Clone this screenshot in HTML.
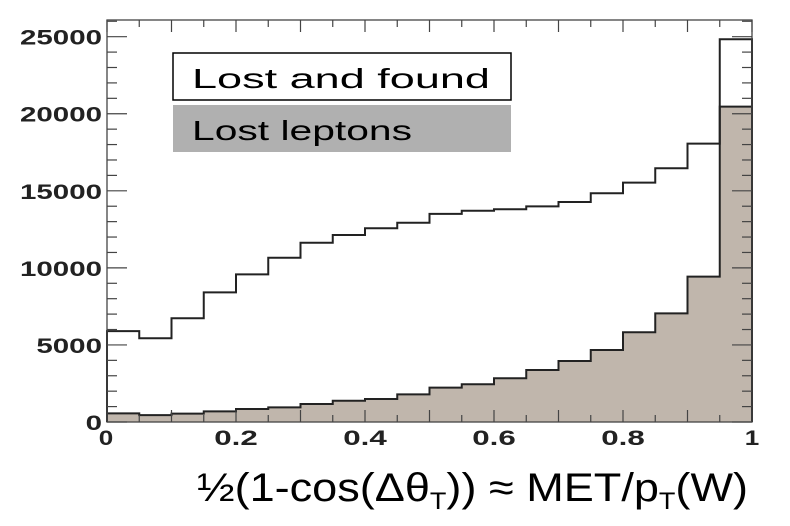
<!DOCTYPE html>
<html><head><meta charset="utf-8"><style>
html,body{margin:0;padding:0;background:#fff;}
svg{display:block;font-family:"Liberation Sans",sans-serif;}
</style></head><body>
<svg id="chart" width="790" height="526" viewBox="0 0 790 526" xmlns="http://www.w3.org/2000/svg">
<g id="fills"></g>
<g id="lines"></g>
<g id="axes"></g>
<rect x="173" y="53" width="338" height="47" fill="#fff" stroke="#000" stroke-width="1.5"/>
<text x="192" y="88" font-size="28" textLength="298" lengthAdjust="spacingAndGlyphs" fill="#000">Lost and found</text>
<rect x="173" y="105" width="338" height="47" fill="#b0b0b0"/>
<text x="192" y="140" font-size="28" textLength="220" lengthAdjust="spacingAndGlyphs" fill="#000">Lost leptons</text>
<text x="197" y="501" font-size="40" textLength="551" lengthAdjust="spacingAndGlyphs" fill="#000">½(1-cos(Δθ<tspan font-size="24" dy="8">T</tspan><tspan dy="-8">)) ≈ MET/p</tspan><tspan font-size="24" dy="8">T</tspan><tspan dy="-8">(W)</tspan></text>
</svg>
<script>
const binEdgesStart = 0, binWidth = 0.05;
const lostAndFound = [5900,5430,6730,8410,9580,10660,11630,12130,12570,12930,13500,13710,13800,13990,14270,14840,15530,16460,18060,24830];
const lostLeptons = [560,450,540,690,840,950,1170,1380,1490,1790,2230,2450,2840,3370,3960,4670,5820,7050,9430,20460];
const yTicks = [0,5000,10000,15000,20000,25000];
const xTicks = [0,0.2,0.4,0.6,0.8,1];
const xTickLabels = ["0","0.2","0.4","0.6","0.8","1"];

const X0=107,X1=752,Y0=422,YTOP=20;
const sx=v=>X0+v*(X1-X0);
const sy=v=>Y0-v*0.015413;
const NS="http://www.w3.org/2000/svg";
function mk(tag,attrs,parent){const e=document.createElementNS(NS,tag);for(const k in attrs)e.setAttribute(k,attrs[k]);parent.appendChild(e);return e;}
const fills=document.getElementById('fills'),lines=document.getElementById('lines'),axes=document.getElementById('axes');

function stepPath(vals){
  let d=`M${sx(0)},${sy(0)}`;
  vals.forEach((v,i)=>{const a=binEdgesStart+i*binWidth,b=a+binWidth;d+=` L${sx(a)},${sy(v)} L${sx(b)},${sy(v)}`;});
  d+=` L${sx(binEdgesStart+vals.length*binWidth)},${sy(0)}`;
  return d;
}
lostLeptons.forEach((v,i)=>{
  const a=binEdgesStart+i*binWidth;
  const r=mk('rect',{x:sx(a),y:sy(v),width:sx(a+binWidth)-sx(a)+0.5,height:sy(0)-sy(v),fill:'#c0b6ac'},fills);
  
  
});
const p1=mk('path',{d:stepPath(lostLeptons),fill:'none',stroke:'#222',"stroke-width":2},lines);


const p2=mk('path',{d:stepPath(lostAndFound),fill:'none',stroke:'#222',"stroke-width":2},lines);



const frame=mk('rect',{x:X0,y:YTOP,width:X1-X0,height:Y0-YTOP,fill:'none',stroke:'#444',"stroke-width":1.3},axes);


for(let v=0;v<=26000;v+=1000){
  const major=v%5000===0,len=major?20:10,y=sy(v);
  if(y<YTOP)break;
  mk('line',{x1:X0,y1:y,x2:X0+len,y2:y,stroke:'#444',"stroke-width":1.2},axes);
  mk('line',{x1:X1,y1:y,x2:X1-len,y2:y,stroke:'#444',"stroke-width":1.2},axes);
}
yTicks.forEach(v=>{
  const s=String(v);
  const t=mk('text',{x:102,y:sy(v)+8,"font-size":21,"font-weight":"bold","text-anchor":"end",fill:'#222',textLength:s.length*16.4,lengthAdjust:'spacingAndGlyphs'},axes);
  t.textContent=s;
  
  
});
for(let i=0;i<=20;i++){
  const v=i*0.05,x=sx(v),len=(i%2===0)?12:7;
  mk('line',{x1:x,y1:Y0,x2:x,y2:Y0-len,stroke:'#444',"stroke-width":1.2},axes);
  mk('line',{x1:x,y1:YTOP,x2:x,y2:YTOP+len,stroke:'#444',"stroke-width":1.2},axes);
}
xTicks.forEach((v,i)=>{
  const s=xTickLabels[i];
  const t=mk('text',{x:sx(v)+(i===0?-1:0),y:445,"font-size":21,"font-weight":"bold","text-anchor":"middle",fill:'#222',textLength:s.length*14.5,lengthAdjust:'spacingAndGlyphs'},axes);
  t.textContent=s;
  
  
});
</script>
</body></html>
